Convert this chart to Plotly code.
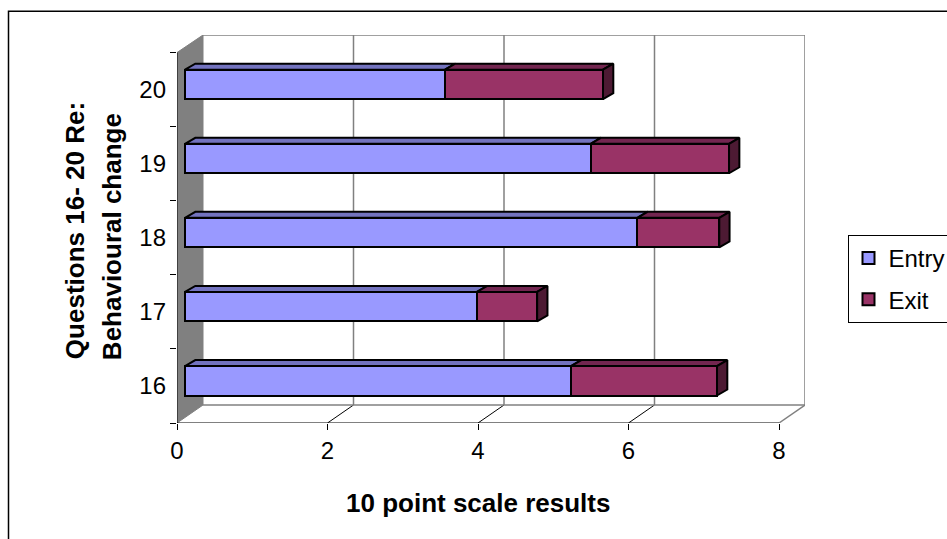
import plotly.graph_objects as go

categories = [16, 17, 18, 19, 20]
entry = [5.13, 3.88, 6.01, 5.39, 3.455]
exit_ = [1.94, 0.80, 1.09, 1.84, 2.10]
x_ticks = [0, 2, 4, 6, 8]
x_title = "10 point scale results"
y_title_lines = ["Questions 16- 20 Re:", "Behavioural change"]

W, H = 947, 539
X0, XB, YF, YT = 177.0, 805.0, 423.0, 34.7  # plot box in page pixels
PX_X = (779.0 - 177.0) / 8
PX_Y = (423.0 - 52.3) / 5
FLOOR_DX, FLOOR_DY = 26.0 / PX_X, 18.0 / PX_Y
BAR_OX, BAR_OY = 8.0 / PX_X, 5.2 / PX_Y
BAR_DX, BAR_DY = 10.3 / PX_X, 6.0 / PX_Y
BAR_H = 29.5 / PX_Y
X_MAX = (XB - X0) / PX_X
Y_MAX = (YF - YT) / PX_Y
GRID = "#808080"
FONT = "Liberation Sans"
EDGE = 2

ypos = [i + 0.5 for i in range(len(categories))]
y_bar = [y + BAR_OY for y in ypos]

fig = go.Figure()
fig.add_trace(go.Bar(name="Entry", orientation="h", y=y_bar, x=entry,
                     base=[BAR_OX] * 5, width=BAR_H, legendgroup="a",
                     marker=dict(color="#9999FF", line=dict(color="black", width=EDGE))))
fig.add_trace(go.Bar(name="Exit", orientation="h", y=y_bar, x=exit_,
                     base=[BAR_OX + e for e in entry], width=BAR_H, legendgroup="b",
                     marker=dict(color="#993366", line=dict(color="black", width=EDGE))))


def face(xs, ys, color):
    fig.add_trace(go.Scatter(x=xs, y=ys, mode="lines", fill="toself", fillcolor=color,
                             line=dict(color="black", width=EDGE), showlegend=False,
                             hoverinfo="skip"))


for y, a, b in zip(y_bar, entry, exit_):
    top = y + BAR_H / 2
    bot = y - BAR_H / 2
    l = BAR_OX
    m = BAR_OX + a
    r = BAR_OX + a + b
    face([l, m, m + BAR_DX, l + BAR_DX, l], [top, top, top + BAR_DY, top + BAR_DY, top], "#7373BF")
    face([m, r, r + BAR_DX, m + BAR_DX, m], [top, top, top + BAR_DY, top + BAR_DY, top], "#732650")
    face([r, r + BAR_DX, r + BAR_DX, r, r], [bot, bot + BAR_DY, top + BAR_DY, top, bot], "#4D1A33")

shapes = []
gl = dict(color=GRID, width=1.5)
common = dict(type="line", layer="below", xref="x", yref="y")
shapes.append(dict(type="path", layer="below", xref="x", yref="y", fillcolor=GRID,
                   line=dict(color=GRID, width=1),
                   path=f"M 0 0 L {FLOOR_DX} {FLOOR_DY} L {FLOOR_DX} {Y_MAX} L 0 5 Z"))
for t in x_ticks[1:]:
    shapes.append(dict(common, x0=t + FLOOR_DX, x1=t + FLOOR_DX, y0=FLOOR_DY, y1=Y_MAX, line=gl))
for t in x_ticks[1:-1]:
    shapes.append(dict(common, x0=t, x1=t + FLOOR_DX, y0=0, y1=FLOOR_DY,
                       line=dict(color="black", width=1)))
shapes.append(dict(common, x0=8, x1=8 + FLOOR_DX, y0=0, y1=FLOOR_DY, line=gl))
shapes.append(dict(common, x0=FLOOR_DX, x1=8 + FLOOR_DX, y0=FLOOR_DY, y1=FLOOR_DY, line=gl))
shapes.append(dict(common, x0=FLOOR_DX, x1=8 + FLOOR_DX, y0=Y_MAX, y1=Y_MAX, line=gl))
# front edges of the axes: they stop at the last tick
shapes.append(dict(common, x0=0, x1=8, y0=0, y1=0, line=dict(color="black", width=1)))
shapes.append(dict(common, x0=0, x1=0, y0=0, y1=5, line=dict(color="black", width=1)))
# outer chart frame, page pixels mapped to paper fractions
pw, ph = XB - X0, YF - YT
shapes.append(dict(type="rect", xref="paper", yref="paper", layer="below",
                   x0=(8.5 - X0) / pw, x1=(950 - X0) / pw,
                   y0=(YF - 545) / ph, y1=(YF - 11) / ph,
                   line=dict(color="black", width=1.5), fillcolor="rgba(0,0,0,0)"))


def page_text(text, px, py, size, angle=0):
    return dict(text=f"<b>{text}</b>", xref="paper", yref="paper",
                x=(px - X0) / pw, y=(YF - py) / ph, xanchor="center", yanchor="middle",
                showarrow=False, textangle=angle, font=dict(size=size))


annotations = [
    page_text(x_title, 478, 503, 26),
    page_text(y_title_lines[0], 75, 231, 26, -90),
    page_text(y_title_lines[1], 112, 237, 26, -90),
]

fig.update_layout(
    width=W, height=H, autosize=False,
    margin=dict(l=X0, r=W - XB, t=YT, b=H - YF, pad=0),
    barmode="overlay", bargap=0,
    paper_bgcolor="white", plot_bgcolor="white",
    font=dict(family=FONT, color="black", size=24),
    shapes=shapes, annotations=annotations,
    xaxis=dict(range=[0, X_MAX], tickmode="array", tickvals=x_ticks, ticks="outside",
               ticklen=6, tickcolor="black", showgrid=False, zeroline=False, showline=False,
               tickfont=dict(size=24)),
    yaxis=dict(range=[0, Y_MAX], tickmode="array", tickvals=ypos,
               ticktext=[str(c) for c in categories], ticks="", ticklabelstandoff=10,
               minor=dict(tickmode="array", tickvals=list(range(6)), ticks="outside", ticklen=6,
                          tickcolor="black", showgrid=False),
               showgrid=False, zeroline=False, showline=False,
               tickfont=dict(size=24)),
    legend=dict(xref="container", yref="container", x=847.5 / W, xanchor="left",
                y=1 - 235 / H, yanchor="top", bgcolor="white", bordercolor="black",
                borderwidth=1, font=dict(size=24), traceorder="grouped",
                itemsizing="constant", itemwidth=30, tracegroupgap=7),
)
fig.write_html("out.html", post_script="document.body.style.margin='0';",
               config=dict(displayModeBar=False))
